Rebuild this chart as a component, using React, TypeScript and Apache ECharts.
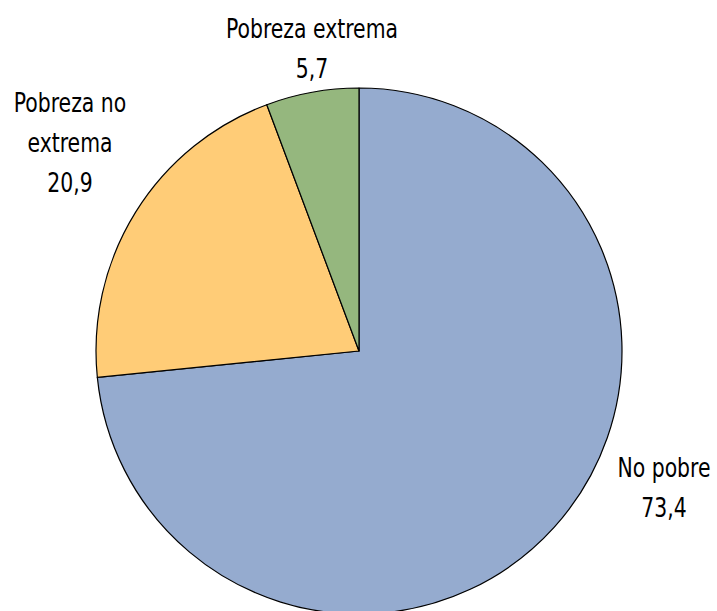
import React, { useEffect, useRef } from "react";
import * as echarts from "echarts";

const categories = ["No pobre", "Pobreza no\nextrema", "Pobreza extrema"];
const values = [73.4, 20.9, 5.7];
const colors = ["#95ABCF", "#FFCC77", "#95B77E"];
const labelPos = [
  [664, 488],
  [70, 143],
  [312, 49],
];

export default function App() {
  const ref = useRef<HTMLDivElement>(null);
  useEffect(() => {
    document.body.style.margin = "0";
    const chart = echarts.init(ref.current!, null, { renderer: "svg" });
    chart.setOption({
      animation: false,
      backgroundColor: "#ffffff",
      graphic: categories.map((c, i) => ({
        type: "text",
        x: labelPos[i][0],
        y: labelPos[i][1],
        scaleX: 0.84,
        silent: true,
        style: {
          text: `${c}\n${String(values[i]).replace(".", ",")}`,
          fontFamily: "'DejaVu Sans Condensed', 'DejaVu Sans', sans-serif",
          fontSize: 27,
          lineHeight: 40,
          fill: "#000000",
          align: "center",
          verticalAlign: "middle",
        },
      })),
      series: [
        {
          type: "pie",
          center: [359, 351],
          radius: 263,
          startAngle: 90,
          clockwise: true,
          data: categories.map((c, i) => ({
            name: c,
            value: values[i],
            itemStyle: { color: colors[i] },
          })),
          itemStyle: { borderColor: "#000000", borderWidth: 1.2 },
          label: { show: false },
          labelLine: { show: false },
          emphasis: { disabled: true },
        },
      ],
    });
    return () => chart.dispose();
  }, []);
  return <div ref={ref} style={{ width: 717, height: 611 }} />;
}
